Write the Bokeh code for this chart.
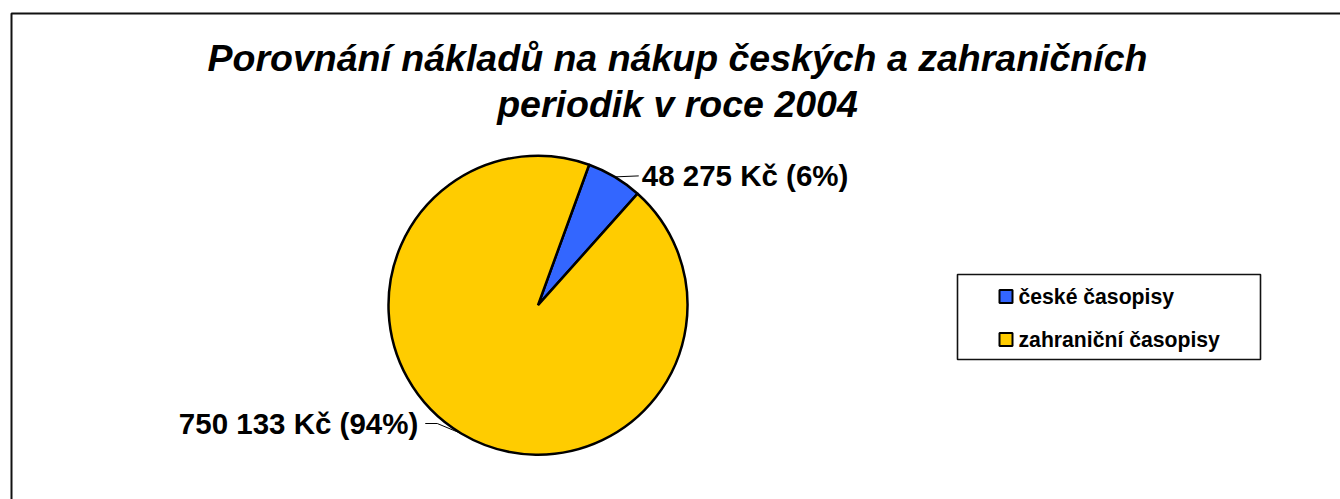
import math
from bokeh.plotting import figure
from bokeh.models import Range1d, ColumnDataSource
from bokeh.core.properties import value
from bokeh.embed import file_html
from bokeh.resources import INLINE

# ---- data ----
title_lines = ["Porovnání nákladů na nákup českých a zahraničních",
               "periodik v roce 2004"]
categories = ["české časopisy", "zahraniční časopisy"]
costs = [48275, 750133]
colors = ["#3366FF", "#FFCC00"]

# ---- layout constants (pixels, y up) ----
W, H = 1340, 499
CX, CY, R = 537.5, 194.3, 149.5
START_DEG = 20.0  # first slice angle, clockwise from 12 o'clock
FONT = value("Liberation Sans")

p = figure(width=W, height=H, x_range=Range1d(0, W), y_range=Range1d(0, H),
           output_backend="svg", toolbar_location=None, min_border=0,
           x_axis_location=None, y_axis_location=None)
p.grid.visible = False
p.outline_line_color = None
p.background_fill_color = "white"
p.border_fill_color = "white"

# chart-area border (right/bottom edges are off-page in the reference)
p.line(x=[11, 11, W + 50], y=[-50, 486, 486], line_color="#111111",
       line_width=2)

# ---- title ----
p.text(x=[677, 677], y=[442, 396], text=title_lines, text_font=FONT,
       text_font_size="37.5px", text_font_style="bold italic",
       text_align="center", text_baseline="middle", text_color="black")

# ---- pie ----
total = sum(costs)
fracs = [c / total for c in costs]
starts, ends, mids = [], [], []
acc = START_DEG
for f in fracs:
    a, b = acc, acc + f * 360.0
    starts.append(math.radians(90 - a))
    ends.append(math.radians(90 - b))
    mids.append((a + b) / 2)
    acc = b

src = ColumnDataSource(dict(start=starts, end=ends, color=colors, cat=categories))
p.wedge(x=CX, y=CY, radius=R, start_angle="start", end_angle="end",
        direction="clock", fill_color="color", line_color="black",
        line_width=2.5, source=src)

# ---- data labels with leader lines ----
labels = []
for c, f in zip(costs, fracs):
    labels.append(f"{c:,}".replace(",", " ") + f" Kč ({round(f * 100)}%)")

for lab, m in zip(labels, mids):
    px = CX + R * math.sin(math.radians(m))
    py = CY + R * math.cos(math.radians(m))
    if math.sin(math.radians(m)) >= 0:
        p.line([px, px + 24], [py, py + 1], line_color="black", line_width=1)
        p.text(x=[px + 27], y=[py + 1], text=[lab], text_font=FONT,
               text_font_size="29.5px", text_font_style="bold",
               text_align="left", text_baseline="middle", text_color="black")
    else:
        p.line([px, px - 24, px - 36], [py, py + 10, py + 10],
               line_color="black", line_width=1)
        p.text(x=[px - 43], y=[py + 10], text=[lab], text_font=FONT,
               text_font_size="29.5px", text_font_style="bold",
               text_align="right", text_baseline="middle", text_color="black")

# ---- legend ----
LX0, LX1, LY0, LY1 = 957, 1260, 140, 225
p.quad(left=[LX0], right=[LX1], bottom=[LY0], top=[LY1], fill_alpha=0,
       line_color="#111111", line_width=1.6)
item_y = [203, 160]
p.rect(x=[1005.5] * 2, y=item_y, width=13, height=13, width_units="screen",
       height_units="screen", fill_color=colors, line_color="black", line_width=2)
p.text(x=[1018] * 2, y=item_y, text=categories, text_font=FONT,
       text_font_size="21.2px", text_font_style="bold",
       text_align="left", text_baseline="middle", text_color="black")

open("out.html", "w").write(file_html(p, INLINE))
